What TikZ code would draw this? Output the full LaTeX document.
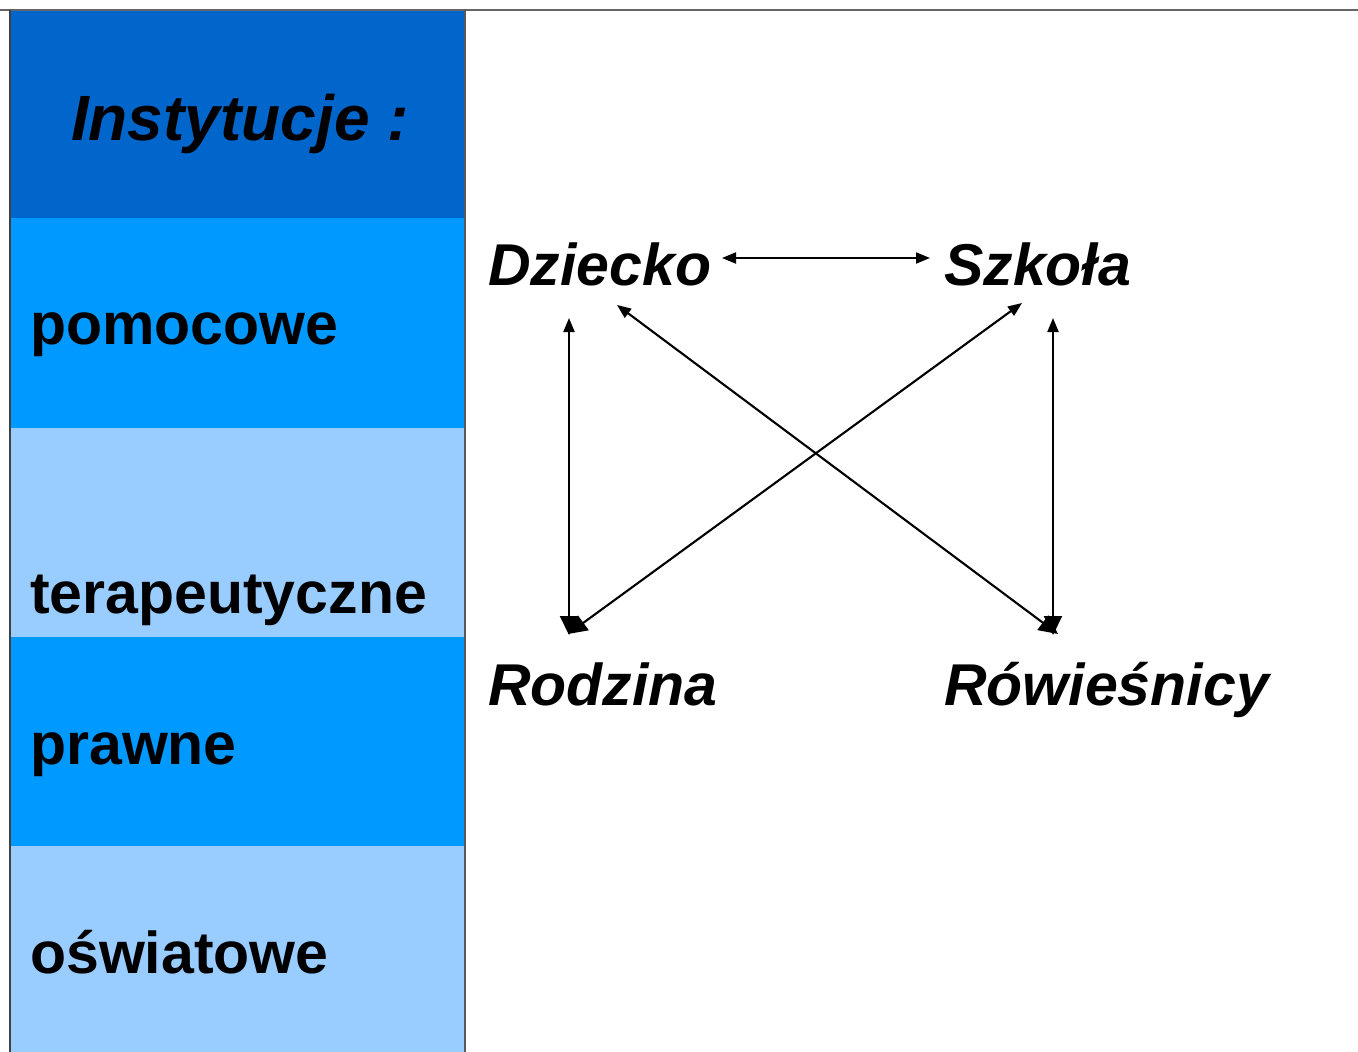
\documentclass[tikz,border=0pt]{standalone}
\usepackage{fontspec}
\setmainfont{Liberation Sans}
\usetikzlibrary{arrows.meta}
\definecolor{hdr}{HTML}{0066CC}
\definecolor{midb}{HTML}{0099FF}
\definecolor{lightb}{HTML}{99CCFF}
\begin{document}
\begin{tikzpicture}[x=1pt,y=-1pt,
  rowlabel/.style={anchor=base west,inner sep=0pt,font=\fontsize{59}{70}\selectfont\bfseries},
  item/.style={anchor=base west,inner sep=0pt,font=\fontsize{59}{70}\selectfont\bfseries\itshape},
  conn/.style={line width=2.1pt},
  small/.style={{Triangle[length=14pt,width=11pt]}-{Triangle[length=14pt,width=11pt]}},
  mixed/.style={{Triangle[length=14pt,width=11pt]}-{Triangle[length=19pt,width=18pt]}}]
\useasboundingbox (0,0) rectangle (1358,1052);
\fill[white] (0,0) rectangle (1358,1052);
% left panel
\fill[hdr] (10,10) rectangle (465,218);
\fill[midb] (10,218) rectangle (465,428);
\fill[lightb] (10,428) rectangle (465,637);
\fill[midb] (10,637) rectangle (465,846);
\fill[lightb] (10,846) rectangle (465,1052);
\draw[gray!80!black,line width=1.5pt] (0,10) -- (1358,10);
\draw[black!75,line width=2pt] (10,10) -- (10,1052);
\draw[gray!70!black,line width=1.5pt] (465,10) -- (465,1052);
\node[anchor=base,inner sep=0pt,font=\fontsize{64}{76}\selectfont\bfseries\itshape] (title) at (240,140) {Instytucje :};
\node[rowlabel] (pom) at (30,344) {pomocowe};
\node[rowlabel] (ter) at (30,613) {terapeutyczne};
\node[rowlabel] (pra) at (30,764) {prawne};
\node[rowlabel] (osw) at (30,973) {oświatowe};
% diagram
\node[item] (dz) at (488,285) {Dziecko};
\node[item] (sz) at (944,285) {Szkoła};
\node[item] (ro) at (488,705) {Rodzina};
\node[item] (rw) at (944,705) {Rówieśnicy};
\coordinate (dzR) at (722,258);
\coordinate (szL) at (930,258);
\coordinate (dzB) at (569,318);
\coordinate (roT) at (569,635);
\coordinate (szB) at (1053,318);
\coordinate (rwT) at (1053,635);
\coordinate (dzD) at (617,305);
\coordinate (rwD) at (1058,634);
\coordinate (szD) at (1022,303);
\coordinate (roD) at (568,634);
\draw[conn,small] (dzR) -- (szL);
\draw[conn,mixed] (dzB) -- (roT);
\draw[conn,mixed] (szB) -- (rwT);
\draw[conn,mixed] (dzD) -- (rwD);
\draw[conn,mixed] (szD) -- (roD);
\end{tikzpicture}
\end{document}
